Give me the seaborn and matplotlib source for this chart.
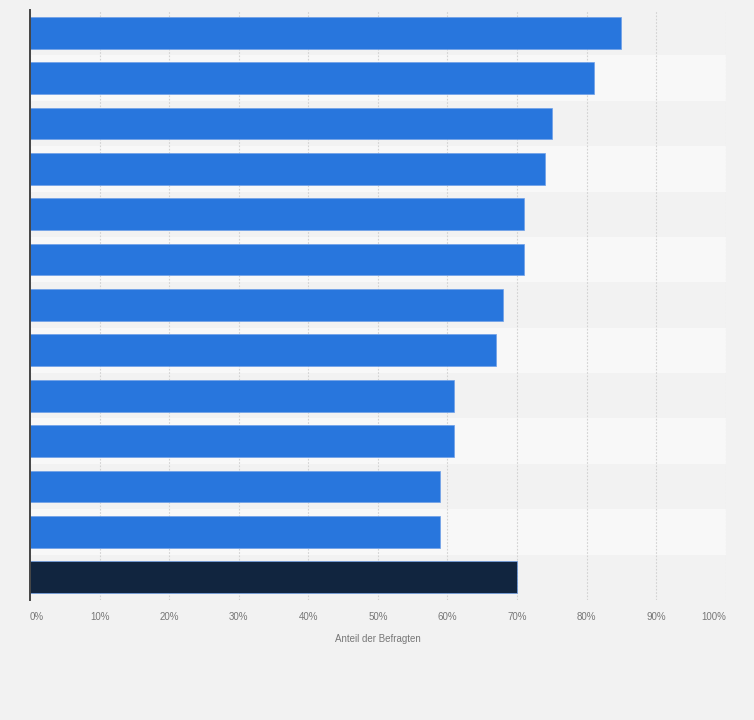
import matplotlib
matplotlib.use("Agg")
import matplotlib.pyplot as plt
import seaborn as sns
import pandas as pd

categories = [f"Kategorie {i}" for i in range(1, 14)]
values = [85, 81, 75, 74, 71, 71, 68, 67, 61, 61, 59, 59, 70]
bar_colors = ["#2876dd"] * 12 + ["#11253f"]
tick_values = [0, 10, 20, 30, 40, 50, 60, 70, 80, 90, 100]
tick_labels = [f"{v}%" for v in tick_values]
x_label = "Anteil der Befragten"

df = pd.DataFrame({"Kategorie": categories, "Wert": values})

sns.set_theme(style="white")
plt.rcParams["font.family"] = ["Liberation Sans", "DejaVu Sans"]

fig = plt.figure(figsize=(7.54, 7.2), dpi=100, facecolor="#f2f2f2")
ax = fig.add_axes([30 / 754, 1 - 600 / 720, (725.7 - 30) / 754, 590 / 720])
ax.set_facecolor("#f2f2f2")

for i in range(len(categories)):
    ax.axhspan(i - 0.5, i + 0.5, color="#f2f2f2" if i % 2 == 0 else "#f8f8f8", zorder=0, lw=0)

sns.barplot(data=df, y="Kategorie", x="Wert", hue="Kategorie", palette=bar_colors,
            order=categories, hue_order=categories, legend=False, width=0.7,
            saturation=1, orient="h", ax=ax, zorder=3, edgecolor="#6fa0e8", linewidth=0.5)
for patch, c in zip(ax.patches, bar_colors):
    if c == "#11253f":
        patch.set_edgecolor("#4a5666")

ax.set_xlim(0, 100)
ax.set_ylim(len(categories) - 0.5, -0.5)
ax.set_xticks(tick_values)
ax.set_xticklabels(tick_labels, fontsize=7, color="#777777")
lbls = ax.get_xticklabels()
lbls[0].set_horizontalalignment("left")
lbls[-1].set_horizontalalignment("right")
ax.tick_params(axis="x", length=0, pad=9)
ax.set_yticks(range(len(categories)))
ax.set_yticklabels([])
ax.tick_params(axis="y", length=0)
ax.grid(axis="x", color="#d2d2d2", linestyle=(0, (1.5, 1.5)), linewidth=0.8, zorder=1)
ax.set_axisbelow(True)
ax.set_xlabel(x_label, fontsize=7, color="#777777", labelpad=8)
ax.set_ylabel("")
for s in ["top", "right", "bottom"]:
    ax.spines[s].set_visible(False)
ax.spines["left"].set_color("#444444")
ax.spines["left"].set_linewidth(1.4)
ax.spines["left"].set_zorder(5)

fig.savefig("out.png", dpi=100, facecolor="#f2f2f2")
